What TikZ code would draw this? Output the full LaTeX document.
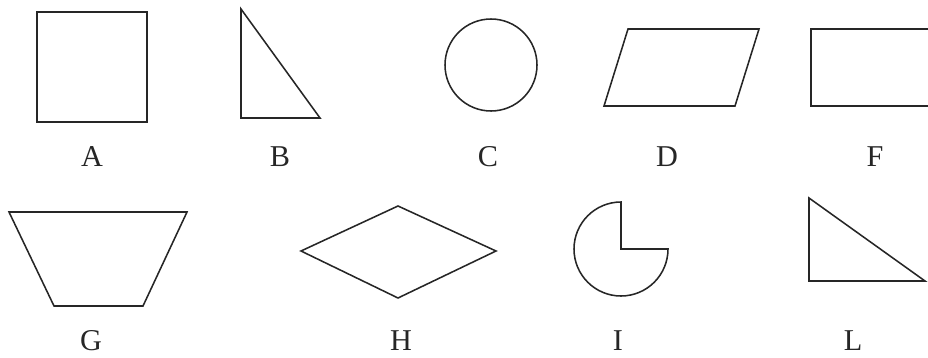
\documentclass[tikz,border=0pt]{standalone}
\usepackage{fontspec}
\setmainfont{Liberation Serif}
\usepackage{tikz}
\usetikzlibrary{positioning, calc}

\begin{document}
\begin{tikzpicture}[
        x=0.025cm, y=0.025cm,
        figline/.style={draw=black!85, line width=1.1pt, line join=miter},
        letter/.style={font=\fontsize{21.5}{24}\selectfont, inner sep=0pt, text=black!85}
    ]
        \useasboundingbox (0,0) rectangle (928,357);

        % First row of shapes
        \draw[figline] (37,235) rectangle (147,345);
        \draw[figline] (241,348) -- (241,239) -- (320,239) -- cycle;
        \draw[figline] (491,292) circle[radius=46];
        \draw[figline] (628,328) -- (759,328) -- (735,251) -- (604,251) -- cycle;
        \draw[figline] (928,328) -- (811,328) -- (811,251) -- (928,251);

        \node[letter] (lA) at (92,200) {A};
        \node[letter] (lB) at (280,200) {B};
        \node[letter] (lC) at (488,200) {C};
        \node[letter] (lD) at (667,200) {D};
        \node[letter] (lF) at (875,200) {F};

        % Second row of shapes
        \draw[figline] (9,145) -- (187,145) -- (143,51) -- (54,51) -- cycle;
        \draw[figline] (301,106) -- (398,151) -- (496,106) -- (398,59) -- cycle;
        \draw[figline] (621,108) -- (621,155) arc[start angle=90, end angle=360, radius=47] -- cycle;
        \draw[figline] (809,159) -- (809,76) -- (925,76) -- cycle;

        \node[letter] (lG) at (91,16) {G};
        \node[letter] (lH) at (401,16) {H};
        \node[letter] (lI) at (618,16) {I};
        \node[letter] (lL) at (853,16) {L};
    \end{tikzpicture}
\end{document}
